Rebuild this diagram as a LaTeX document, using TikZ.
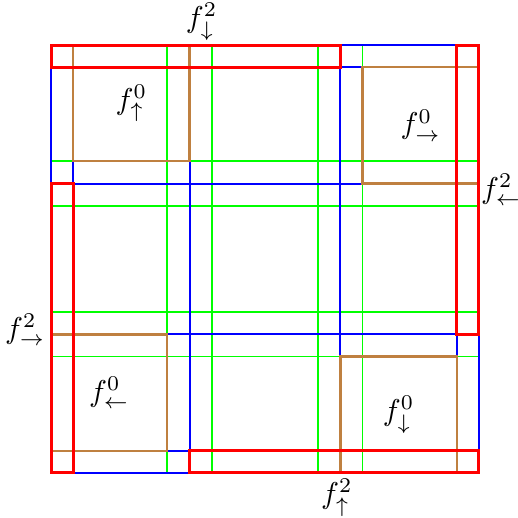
\documentclass[tikz,border=0pt]{standalone}
\usepackage{amsmath,amssymb}
\begin{document}
\begin{tikzpicture}[every node/.style={inner sep=1pt}]
    \useasboundingbox (-0.596,-0.526) rectangle (5.456,5.526);
    % overlap lines
    \draw[green,line width=0.55pt] (1.355,0) -- (1.355,5) (1.88,0) -- (1.88,5)
                 (3.12,0) -- (3.12,5) (3.64,0) -- (3.64,5);
    \draw[green,line width=0.55pt] (0,1.36) -- (5,1.36) (0,1.88) -- (5,1.88)
                 (0,3.12) -- (5,3.12) (0,3.645) -- (5,3.645);
    % subdomain boundaries
    \draw[blue,line width=0.6pt] (0,0) rectangle (5,5);
    \draw[blue,line width=0.6pt] (0.26,0.26) rectangle (4.74,4.74);
    \draw[blue,line width=0.6pt] (1.62,0) -- (1.62,5) (3.38,0) -- (3.38,5)
                (0,1.62) -- (5,1.62) (0,3.38) -- (5,3.38);
    % faces
    \draw[line width=0.8pt,brown] (0.26,3.645) rectangle (1.62,5);
    \draw[line width=0.8pt,brown] (3.64,3.38) rectangle (5,4.74);
    \draw[line width=0.8pt,brown] (0,0.26) rectangle (1.355,1.62);
    \draw[line width=0.8pt,brown] (3.38,0) rectangle (4.74,1.36);
    \node (fup0) at (0.94,4.32) {$f^0_{\uparrow}$};
    \node (fright0) at (4.32,4.06) {$f^0_{\rightarrow}$};
    \node (fleft0) at (0.68,0.94) {$f^0_{\leftarrow}$};
    \node (fdown0) at (4.06,0.68) {$f^0_{\downarrow}$};
    % edges
    \draw[line width=1pt,red] (0,4.74) rectangle (3.38,5);
    \draw[line width=1pt,red] (4.74,1.62) rectangle (5,5);
    \draw[line width=1pt,red] (1.62,0) rectangle (5,0.26);
    \draw[line width=1pt,red] (0,0) rectangle (0.26,3.38);
    \node (fdown2) at (1.76,5.27) {$f^2_{\downarrow}$};
    \node (fleft2) at (5.26,3.31) {$f^2_{\leftarrow}$};
    \node (fup2) at (3.34,-0.29) {$f^2_{\uparrow}$};
    \node (fright2) at (-0.30,1.67) {$f^2_{\rightarrow}$};
\end{tikzpicture}
\end{document}
